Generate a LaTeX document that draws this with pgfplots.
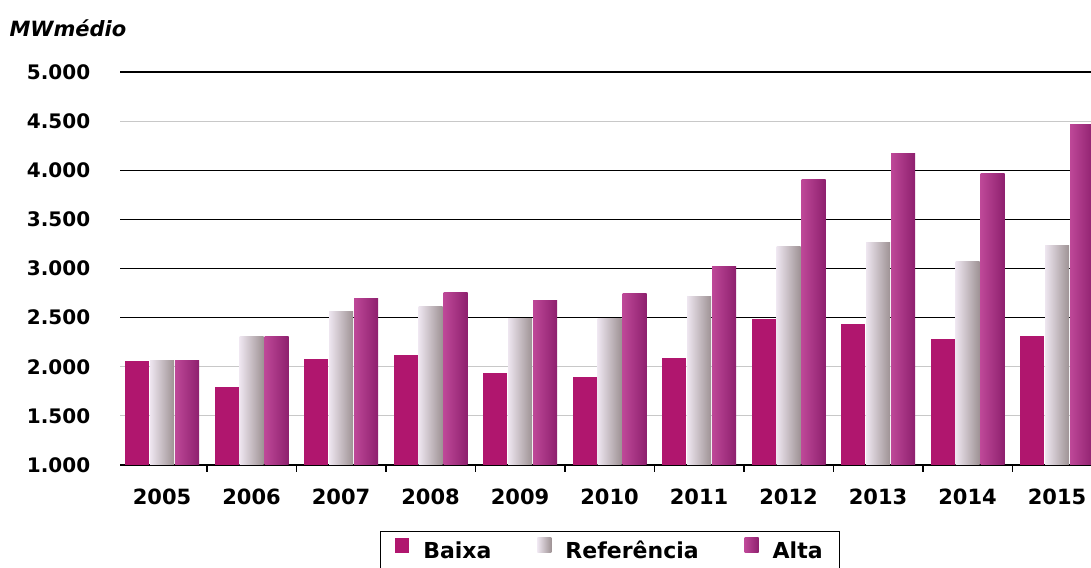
\documentclass[border=0pt]{standalone}
\usepackage{fontspec}
\setmainfont{DejaVu Sans}
\usepackage{pgfplots}
\usepackage{pgfplotstable}
\pgfplotsset{compat=1.18}
\definecolor{baixa}{HTML}{B0166E}
\definecolor{refL}{HTML}{EEE6F0}
\definecolor{refM}{HTML}{DAD0DA}
\definecolor{refR}{HTML}{9E9294}
\definecolor{altaL}{HTML}{BE4898}
\definecolor{altaM}{HTML}{B0398A}
\definecolor{altaR}{HTML}{8E206E}
\definecolor{gridgray}{HTML}{C8C8C8}
\pgfplotstableread{
x baixa ref alta
0 2060 2060 2060
1 1790 2305 2305
2 2075 2565 2690
3 2120 2610 2755
4 1935 2490 2675
5 1900 2490 2750
6 2085 2715 3020
7 2485 3220 3910
8 2440 3265 4170
9 2285 3070 3967
10 2315 3230 4465
}\datatable
\begin{document}
\begin{tikzpicture}[x=1pt,y=1pt]
\useasboundingbox (0,0) rectangle (1091,567);
\begin{axis}[
  at={(120pt,102pt)}, anchor=south west,
  scale only axis, width=971pt, height=393pt,
  xmin=-0.47, xmax=10.38, ymin=1000, ymax=5000,
  ybar, bar width=24pt,
  axis lines*=left,
  y axis line style={draw=none},
  x axis line style={black, line width=1.6pt},
  xtick={0,...,10},
  xticklabels={2005,2006,2007,2008,2009,2010,2011,2012,2013,2014,2015},
  minor xtick={0.5,1.5,...,9.5},
  tick align=outside,
  major x tick style={draw=none},
  minor x tick style={black, line width=1.5pt},
  minor tick length=7pt,
  ytick={1000,1500,...,5000},
  yticklabels={1.000,1.500,2.000,2.500,3.000,3.500,4.000,4.500,5.000},
  y tick style={draw=none},
  ymajorgrids,
  major grid style={gridgray, line width=1pt},
  extra y ticks={2500,3000,3500,4000,5000},
  extra y tick labels={},
  extra y tick style={grid=major, major grid style={black, line width=1.4pt}, y tick style={draw=none}},
  xticklabel style={font=\bfseries\fontsize{21}{25}\selectfont, yshift=-16pt},
  yticklabel style={font=\bfseries\fontsize{20}{24}\selectfont, xshift=-22pt},
  legend style={at={(0.5046,0)}, anchor=north, yshift=-66pt, draw=black, line width=1.3pt,
    font=\bfseries\fontsize{22}{26}\selectfont, inner xsep=15pt, inner ysep=6pt,
    nodes={text height=16pt, text depth=4pt},
    /tikz/every odd column/.append style={column sep=12pt},
    /tikz/every even column/.append style={column sep=44pt}},
  legend columns=3,
  legend image code/.code={\draw[#1, draw=none] (0pt,0pt) rectangle (14pt,15pt);},
]
\addlegendimage{fill=baixa}
\addlegendimage{left color=refL, middle color=refM, right color=refR}
\addlegendimage{left color=altaL, middle color=altaM, right color=altaR}
\pgfplotsinvokeforeach{0,...,10}{
  \addplot[fill=baixa, draw=none, bar shift=-25pt, forget plot,
    restrict expr to domain={\coordindex}{#1:#1}] table[x=x, y=baixa] {\datatable};
  \addplot[left color=refL, middle color=refM, right color=refR, draw=none, bar shift=0pt, forget plot,
    restrict expr to domain={\coordindex}{#1:#1}] table[x=x, y=ref] {\datatable};
  \addplot[left color=altaL, middle color=altaM, right color=altaR, draw=none, bar shift=25pt, forget plot,
    restrict expr to domain={\coordindex}{#1:#1}] table[x=x, y=alta] {\datatable};
}
\legend{Baixa,Referência,Alta}
\end{axis}
\node[anchor=west, font=\bfseries\itshape\fontsize{21}{25}\selectfont] at (6,539) {MWmédio};
\end{tikzpicture}
\end{document}
